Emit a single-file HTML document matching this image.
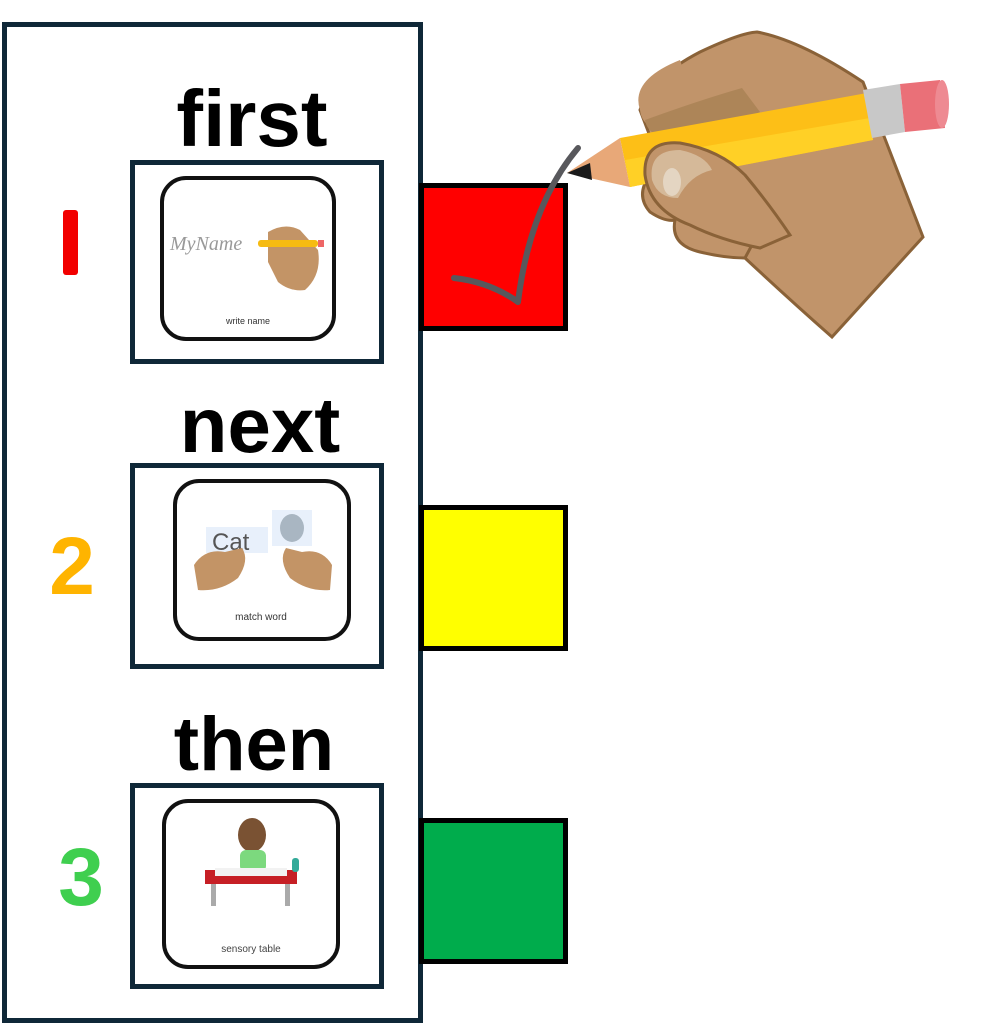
<!DOCTYPE html>
<html><head><meta charset="utf-8"><style>
html,body{margin:0;padding:0;background:#fff;width:993px;height:1024px;overflow:hidden}
</style></head><body>
<svg width="993" height="1024" viewBox="0 0 993 1024" xmlns="http://www.w3.org/2000/svg" font-family="Liberation Sans, sans-serif">
<rect x="0" y="0" width="993" height="1024" fill="#fff"/>
<rect x="4.5" y="24.5" width="416" height="996" fill="#fff" stroke="#0f2838" stroke-width="5"/>
<text x="252" y="146" font-size="80" font-weight="bold" text-anchor="middle" fill="#000">first</text>
<text x="260" y="452" font-size="78" font-weight="bold" text-anchor="middle" fill="#000">next</text>
<text x="254" y="770" font-size="76" font-weight="bold" text-anchor="middle" fill="#000">then</text>
<rect x="63" y="210" width="15" height="65" rx="3" fill="#f20000"/>
<text x="72" y="594" font-size="82" font-weight="bold" text-anchor="middle" fill="#ffb400">2</text>
<text x="81" y="905" font-size="82" font-weight="bold" text-anchor="middle" fill="#3fcf4f">3</text>
<rect x="132.5" y="162.5" width="249" height="199" fill="#fff" stroke="#0f2838" stroke-width="5"/>
<rect x="132.5" y="465.5" width="249" height="201" fill="#fff" stroke="#0f2838" stroke-width="5"/>
<rect x="132.5" y="785.5" width="249" height="201" fill="#fff" stroke="#0f2838" stroke-width="5"/>
<rect x="162" y="178" width="172" height="161" rx="24" fill="#fff" stroke="#111" stroke-width="4"/>
<rect x="175" y="481" width="174" height="158" rx="24" fill="#fff" stroke="#111" stroke-width="4"/>
<rect x="164" y="801" width="174" height="166" rx="24" fill="#fff" stroke="#111" stroke-width="4"/>
<text x="170" y="250" font-size="20" fill="#999" font-family="Liberation Serif, serif" font-style="italic">MyName</text>
<path d="M268 232 Q285 222 300 230 L318 250 Q322 275 305 290 Q290 292 278 282 L268 262 Z" fill="#c39466"/>
<rect x="258" y="240" width="60" height="7" rx="3" fill="#f6bb12"/>
<rect x="318" y="240" width="6" height="7" fill="#e66"/>
<text x="248" y="324" font-size="9" text-anchor="middle" fill="#333">write name</text>
<rect x="206" y="527" width="62" height="26" fill="#e8f0fb"/>
<text x="212" y="550" font-size="24" fill="#555">Cat</text>
<rect x="272" y="510" width="40" height="36" fill="#e8f0fb"/>
<ellipse cx="292" cy="528" rx="12" ry="14" fill="#a9b6c2"/>
<path d="M194 565 Q205 548 225 552 L242 548 Q250 560 238 578 Q220 592 198 590 Z" fill="#c39466"/>
<path d="M332 565 Q322 548 302 552 L286 548 Q278 560 290 578 Q308 592 330 590 Z" fill="#c39466"/>
<text x="261" y="620" font-size="10" text-anchor="middle" fill="#333">match word</text>
<ellipse cx="252" cy="835" rx="14" ry="17" fill="#7a5233"/>
<rect x="240" y="850" width="26" height="22" rx="6" fill="#7cd97e"/>
<rect x="205" y="870" width="92" height="14" fill="#c61f25"/>
<rect x="215" y="868" width="72" height="8" fill="#f2f2f2"/>
<rect x="211" y="884" width="5" height="22" fill="#aaa"/>
<rect x="285" y="884" width="5" height="22" fill="#aaa"/>
<rect x="292" y="858" width="7" height="14" rx="3" fill="#3a9" />
<text x="251" y="952" font-size="10" text-anchor="middle" fill="#444">sensory table</text>
<rect x="421.5" y="185.5" width="144" height="143" fill="#ff0000" stroke="#000" stroke-width="5"/>
<rect x="421.5" y="507.5" width="144" height="141" fill="#ffff00" stroke="#000" stroke-width="5"/>
<rect x="421.5" y="820.5" width="144" height="141" fill="#00ac4c" stroke="#000" stroke-width="5"/>
<path d="M578 148 Q530 205 518 302 Q490 282 454 278" fill="none" stroke="#58585c" stroke-width="6" stroke-linecap="round" stroke-linejoin="round"/>
<!-- hand -->
<path d="M640 110 Q650 78 700 52 Q740 33 757 32 Q800 40 863 82 L923 237 L832 337 Q790 300 745 258 Q720 255 700 240 L680 215 Z" fill="#c1946a" stroke="#8a6238" stroke-width="3"/>
<path d="M640 110 Q630 80 680 60 Q690 90 700 120 L665 132 Q642 128 640 110 Z" fill="#c1946a"/>
<path d="M645 120 Q700 100 742 88 L760 112 Q720 130 675 138 Q648 138 645 120 Z" fill="#ad8558"/>
<!-- lower knuckles -->
<path d="M650 175 Q635 195 650 212 Q665 222 675 220 Q670 245 700 252 Q725 258 745 258 L760 230 L690 190 Z" fill="#c1946a" stroke="#8a6238" stroke-width="3"/>
<!-- pencil -->
<polygon points="620,138 867,93 873,140 630,187" fill="#fdbf17"/>
<polygon points="625,160 870,118 873,140 630,187" fill="#ffd026"/>
<polygon points="567,173 620,138 630,187" fill="#e8a878"/>
<polygon points="567,173 590,163 592,180" fill="#1a1a1a"/>
<polygon points="863,90 900,84 905,132 872,138" fill="#c8c8c8"/>
<polygon points="900,84 940,80 945,128 905,132" fill="#ea7078"/>
<ellipse cx="942" cy="104" rx="7" ry="24" fill="#ee8a92"/>
<!-- thumb -->
<path d="M645 175 Q643 140 680 143 Q720 150 745 175 Q770 205 790 235 L760 248 Q720 240 690 225 Q650 210 645 175 Z" fill="#c1946a" stroke="#8a6238" stroke-width="3"/>
<path d="M652 180 Q648 150 680 150 Q705 155 712 170 Q690 175 678 198 Q658 198 652 180 Z" fill="#d5b999"/>
<ellipse cx="672" cy="182" rx="9" ry="14" fill="#e4d5c2"/>
</svg>
</body></html>
